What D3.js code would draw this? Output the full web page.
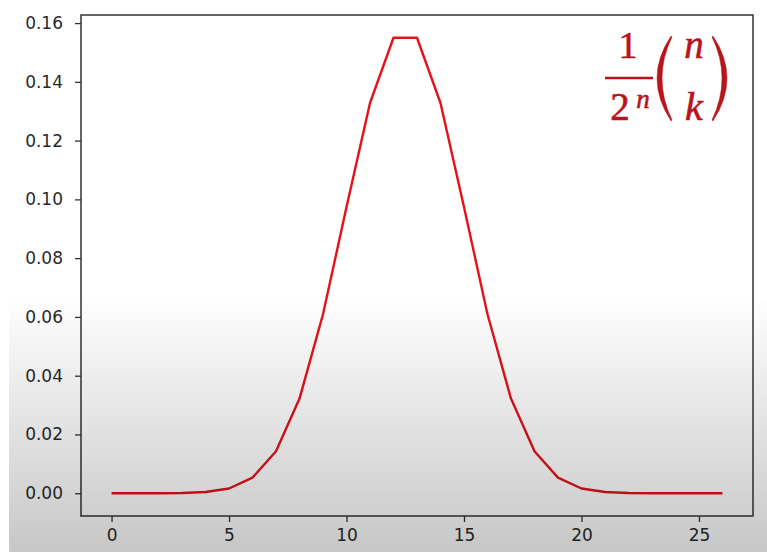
<!DOCTYPE html>
<html>
<head>
<meta charset="utf-8">
<script src="https://cdn.jsdelivr.net/npm/d3@7"></script>
<style>
  body { margin: 0; background: #fff; }
  svg { display: block; }
</style>
</head>
<body>
<div id="chart"></div>
<script>
const width = 767;
const height = 552;

// values (k = 0 .. 26)
const kValues = [0, 1, 2, 3, 4, 5, 6, 7, 8, 9, 10, 11, 12, 13, 14, 15, 16, 17, 18, 19, 20, 21, 22, 23, 24, 25, 26];
const probValues = [0.0000, 0.0000, 0.0000, 0.0001, 0.0004, 0.0016, 0.0053, 0.0143, 0.0322, 0.0609, 0.0974, 0.1328,
    0.1550, 0.1550, 0.1328, 0.0974, 0.0609, 0.0322, 0.0143, 0.0053, 0.0016, 0.0004, 0.0001, 0.0000, 0.0000, 0.0000, 0.0000];
const xTicks = [0, 5, 10, 15, 20, 25];
const yTicks = [0, 0.02, 0.04, 0.06, 0.08, 0.10, 0.12, 0.14, 0.16];

const margin = {top: 15, right: 14, bottom: 36, left: 81};
const red = "#b8141c";

const svg = d3.select("#chart").append("svg")
    .attr("width", width)
    .attr("height", height);

// x/y scales with matplotlib-like 5% padding
const x = d3.scaleLinear()
    .domain([-1.3, 27.3])
    .range([margin.left, width - margin.right]);

const y = d3.scaleLinear()
    .domain([-0.00775, 0.16275])
    .range([height - margin.bottom, margin.top]);

svg.append("rect")
    .attr("width", width)
    .attr("height", height)
    .attr("fill", "#fff");

const line = d3.line()
    .x((d, i) => x(kValues[i]))
    .y(d => y(d));

svg.append("path")
    .datum(probValues)
    .attr("fill", "none")
    .attr("stroke", "#e5121a")
    .attr("stroke-width", 2.4)
    .attr("stroke-linejoin", "round")
    .attr("d", line);

// axes
const xAxis = svg.append("g")
    .attr("transform", `translate(0,${height - margin.bottom})`)
    .call(d3.axisBottom(x).tickValues(xTicks).tickSize(6).tickPadding(7).tickFormat(d3.format("d")));

const yAxis = svg.append("g")
    .attr("transform", `translate(${margin.left},0)`)
    .call(d3.axisLeft(y).tickValues(yTicks).tickSize(6).tickPadding(12).tickFormat(d3.format(".2f")));

[xAxis, yAxis].forEach(g => {
    g.select(".domain").remove();
    g.selectAll(".tick line").attr("stroke", "#333").attr("stroke-width", 1.3);
    g.selectAll(".tick text")
        .attr("fill", "#2a2a2a")
        .style("font-family", "'DejaVu Sans', sans-serif")
        .style("font-size", "17px");
});

// frame
svg.append("rect")
    .attr("x", margin.left)
    .attr("y", margin.top)
    .attr("width", width - margin.right - margin.left)
    .attr("height", height - margin.bottom - margin.top)
    .attr("fill", "none")
    .attr("stroke", "#333")
    .attr("stroke-width", 1.5);

// formula 1/2^n (n k)
const formula = svg.append("g")
    .attr("fill", red)
    .attr("stroke", red)
    .attr("stroke-width", 0.6)
    .style("font-family", "'Liberation Serif', 'DejaVu Serif', serif");

formula.append("text")
    .attr("x", 628).attr("y", 58)
    .attr("text-anchor", "middle")
    .style("font-size", "38px")
    .text("1");

formula.append("line")
    .attr("x1", 605).attr("x2", 653)
    .attr("y1", 78).attr("y2", 78)
    .attr("stroke-width", 2.4);

formula.append("text")
    .attr("x", 620).attr("y", 120)
    .attr("text-anchor", "middle")
    .style("font-size", "39px")
    .text("2");

formula.append("text")
    .attr("x", 643).attr("y", 108)
    .attr("text-anchor", "middle")
    .style("font-size", "27px")
    .style("font-style", "italic")
    .text("n");

// parentheses drawn as tapered crescents
formula.append("path")
    .attr("stroke-width", 0.5)
    .attr("d", "M671,36 Q643,78 671,121 L672,120 Q652,78 672,37 Z");

formula.append("path")
    .attr("stroke-width", 0.5)
    .attr("d", "M713,36 Q741,78 713,121 L712,120 Q732,78 712,37 Z");

formula.append("text")
    .attr("x", 694).attr("y", 58)
    .attr("text-anchor", "middle")
    .style("font-size", "39px")
    .style("font-style", "italic")
    .text("n");

formula.append("text")
    .attr("x", 694).attr("y", 120)
    .attr("text-anchor", "middle")
    .style("font-size", "40px")
    .style("font-style", "italic")
    .text("k");

// grey shading at the bottom of the screenshot
const grad = svg.append("defs").append("linearGradient")
    .attr("id", "shade")
    .attr("x1", 0).attr("x2", 0).attr("y1", 0).attr("y2", 1);
grad.append("stop").attr("offset", "0%").attr("stop-color", "#000").attr("stop-opacity", 0);
grad.append("stop").attr("offset", "100%").attr("stop-color", "#000").attr("stop-opacity", 0.22);

svg.append("rect")
    .attr("x", 9)
    .attr("y", 295)
    .attr("width", width - 9)
    .attr("height", height - 295)
    .attr("fill", "url(#shade)");
</script>
</body>
</html>
